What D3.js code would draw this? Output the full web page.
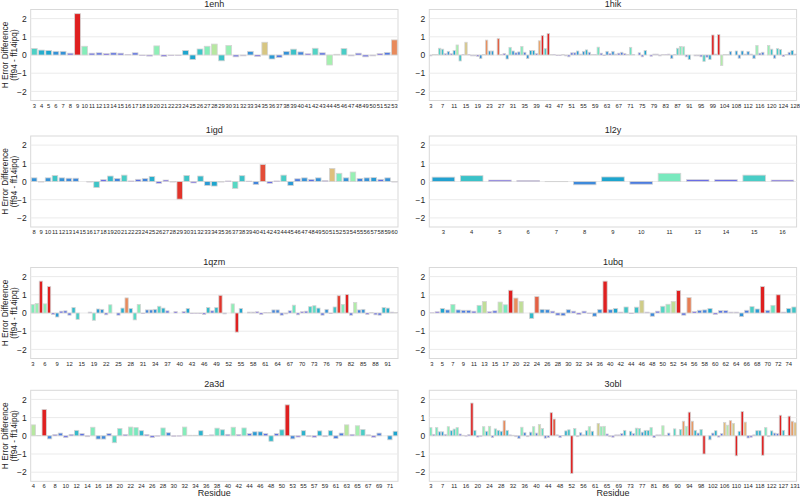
<!DOCTYPE html>
<html><head><meta charset="utf-8">
<script src="https://cdn.jsdelivr.net/npm/d3@7"></script>
<style>
body{margin:0;background:#fff}
svg{display:block}
text{font-family:"Liberation Sans",Arial,sans-serif;fill:#262626}
</style>
</head><body><svg id="c" width="800" height="499"></svg>
<script>
function span(a,b){const r=[];for(let i=a;i<=b;i++)r.push(i);return r;}

// ---------------- data ----------------
const proteins = ["1enh","1hik","1igd","1l2y","1qzm","1ubq","2a3d","3obl"];
const tickEvery = [1,4,1,1,3,2,2,4];
const yTicks = [-2,-1,0,1,2];

const residues_1enh = span(3,53);
const values_1enh = [0.36,0.27,0.25,0.2,0.2,0.1,2.27,0.48,0.1,0.12,0.08,0.12,0.1,0.02,0.12,-0.03,-0.06,0.5,-0.08,-0.03,-0.02,0.25,-0.25,0.33,0.48,0.6,-0.32,0.52,-0.1,-0.05,0.2,-0.08,0.7,-0.22,-0.14,0.2,0.32,0.17,0.07,0.37,0.12,-0.55,0.04,0.35,-0.05,0.1,-0.1,-0.05,0.08,0.14,0.83];

const residues_1hik = span(3,102).concat(span(104,128));
const values_1hik = [-0.05,0.03,0.03,0.37,0.32,0.07,0.2,0.07,0.25,0.55,-0.33,0.02,0.7,0.02,-0.05,-0.05,-0.08,-0.2,0.03,0.82,0.22,0.22,0.0,0.9,0.02,0.08,-0.22,0.42,0.22,0.12,0.17,0.47,0.15,-0.2,0.25,0.25,0.08,0.78,1.07,0.35,1.18,0.03,0.02,-0.03,-0.03,0.03,-0.05,-0.1,0.12,0.12,0.22,0.05,0.2,0.28,0.15,0.03,0.02,0.43,0.1,-0.03,0.2,0.08,0.2,
 0.05,0.1,0.15,0.08,0.03,0.42,0.02,0.0,0.12,-0.1,0.25,0.0,-0.07,0.05,0.05,-0.05,0.03,0.02,0.05,-0.2,0.02,0.37,0.47,0.45,-0.1,-0.25,0.0,-0.05,-0.05,-0.1,-0.35,-0.12,-0.25,1.1,
 0.05,1.12,-0.58,
 0.03,0.03,0.2,0.0,0.22,-0.18,0.22,0.05,0.2,0.05,-0.2,0.52,0.1,0.15,0.0,0.52,0.32,-0.18,0.35,0.3,-0.08,0.03,0.15,0.25,0.05];

const residues_1igd = span(8,60);
const values_1igd = [0.2,-0.03,0.2,0.33,0.2,0.18,0.18,0.0,-0.03,-0.33,0.1,0.3,0.17,0.35,0.03,0.12,0.17,0.27,-0.1,0.08,-0.03,-0.97,0.33,-0.08,0.3,-0.22,-0.25,-0.03,0.03,-0.38,0.32,0.02,-0.17,0.93,-0.1,0.03,0.35,-0.22,0.15,0.2,0.12,0.2,0.05,0.72,0.45,0.2,0.52,0.17,0.2,0.22,0.12,0.2,-0.03];

const residues_1l2y = [3,4,5,6,7,8,9,10,11,13,14,15,16];
const values_1l2y = [0.24,0.32,0.08,0.06,-0.01,-0.18,0.25,-0.15,0.45,0.1,0.1,0.35,0.08];

const residues_1qzm = span(3,17).concat(span(19,93));
const values_1qzm = [0.47,0.52,1.75,0.5,1.45,-0.08,-0.22,0.1,0.12,-0.12,0.3,-0.35,0.0,0.0,0.05,-0.4,0.22,0.2,-0.1,0.45,0.0,-0.12,0.27,0.83,0.25,-0.38,0.47,-0.03,0.17,0.17,0.2,0.37,0.27,0.12,0.0,0.08,0.0,0.08,0.25,-0.03,-0.02,-0.03,-0.08,0.3,0.12,0.3,0.97,-0.05,0.0,0.5,-1.05,0.25,0.0,0.05,0.05,0.07,-0.08,0.02,0.03,0.17,0.17,-0.12,-0.05,0.12,0.43,-0.1,0.07,0.1,0.35,0.4,0.27,-0.12,0.2,-0.03,0.33,0.95,0.47,1.02,-0.12,0.58,0.17,0.2,-0.08,0.03,-0.1,-0.12,0.3,0.27,0.05,0.03];

const residues_1ubq = span(3,18).concat(span(20,36)).concat(span(39,75));
const values_1ubq = [0.01,0.07,0.25,0.17,0.47,0.17,0.15,0.15,0.1,0.42,0.63,0.07,0.12,0.6,0.45,1.25,0.82,0.63,0.0,-0.3,0.9,0.2,0.18,0.1,-0.12,-0.15,0.18,0.1,-0.08,0.1,-0.02,-0.18,0.2,1.75,0.18,0.25,0.05,0.33,-0.03,0.32,0.68,0.05,-0.18,0.1,0.37,0.48,0.63,1.23,-0.12,0.85,0.08,0.15,0.17,0.25,-0.08,0.13,0.13,0.05,0.05,-0.2,0.15,0.35,0.22,1.45,0.15,0.42,1.0,0.05,0.25,0.33];

const residues_2a3d = span(4,51).concat(span(53,72));
const values_2a3d = [0.6,0.02,1.45,-0.17,0.07,0.15,-0.1,0.08,0.3,0.12,-0.05,0.47,-0.18,-0.18,0.13,-0.38,0.4,0.07,0.48,0.45,0.28,0.07,-0.1,-0.02,0.43,0.17,-0.03,-0.02,0.48,0.03,0.03,0.28,0.02,0.05,0.42,0.33,0.08,0.47,0.07,0.43,0.12,0.22,0.22,0.12,-0.3,0.12,0.33,1.7,-0.17,-0.07,0.28,-0.05,-0.08,0.27,-0.05,0.28,-0.15,0.15,0.6,0.08,0.55,0.35,0.05,-0.08,0.15,0.0,-0.22,0.25];

const residues_3obl = span(3,14).concat(span(16,59)).concat(span(61,84)).concat(span(86,125)).concat(span(127,131));
const values_3obl = [0.45,0.08,0.45,0.22,0.22,0.08,0.5,0.28,0.37,0.45,0.1,0.03,-0.02,0.07,1.8,0.3,-0.07,-0.03,0.5,0.25,0.52,-0.1,0.38,0.3,0.25,0.83,0.3,0.05,0.03,-0.05,-0.15,0.47,0.17,-0.05,0.2,0.5,0.15,0.62,0.4,-0.13,-0.1,1.27,0.92,0.05,-0.1,0.02,0.27,0.33,-2.07,0.4,-0.05,0.17,0.05,0.28,0.5,0.25,0.0,0.68,0.5,0.52,0.1,-0.05,
 -0.08,0.05,0.05,0.12,0.3,0.0,0.25,0.12,0.42,0.4,0.2,0.3,0.3,0.45,-0.1,0.05,0.05,0.55,0.03,0.15,0.0,0.38,0.03,0.35,0.8,0.52,1.3,0.8,0.3,0.15,0.35,-1.0,0.0,-0.22,0.15,0.28,-0.07,0.12,0.73,0.58,0.83,0.68,-1.1,0.25,1.33,0.75,-0.12,-0.08,0.05,0.28,0.28,-1.07,0.45,-0.05,0.27,0.15,0.12,1.13,0.3,0.02,1.08,0.8,0.72];

const residueLists = [residues_1enh,residues_1hik,residues_1igd,residues_1l2y,residues_1qzm,residues_1ubq,residues_2a3d,residues_3obl];
const valueLists = [values_1enh,values_1hik,values_1igd,values_1l2y,values_1qzm,values_1ubq,values_2a3d,values_3obl];

// ---------------- layout ----------------
const colX = [30.7, 429.3], plotW = 367.3;
const rowY = [9.5, 136, 267.5, 390.3], plotH = 91;

const svg = d3.select("#c");

function rainbow(t){
  const r = Math.min(1, Math.abs(2*t-0.5));
  const g = Math.sin(Math.PI*t);
  const b = Math.cos(Math.PI*t/2);
  const c = d3.hsl(d3.rgb(r*255,g*255,b*255));
  c.s *= 0.75;
  return c.formatHex();
}
const colorScale = d3.scaleLinear().domain([0,1]).range([0,1]).clamp(true);

proteins.forEach((name,pi)=>{
  const col = pi%2, row = Math.floor(pi/2);
  const x0 = colX[col], y0 = rowY[row];
  const res = residueLists[pi].map(String), vals = valueLists[pi];
  const data = res.map((r,i)=>({r, v: vals[i]}));

  const x = d3.scaleBand().domain(res).range([x0, x0+plotW]).paddingInner(0.2).paddingOuter(0.1);
  const y = d3.scaleLinear().domain([-2.5,2.5]).range([y0+plotH, y0]);

  const g = svg.append("g");
  g.append("rect").attr("x",x0).attr("y",y0).attr("width",plotW).attr("height",plotH)
    .attr("fill","#fff").attr("stroke","#d9d9d9").attr("stroke-width",1);
  g.selectAll("line.grid").data(yTicks).enter().append("line")
    .attr("x1",x0).attr("x2",x0+plotW).attr("y1",d=>y(d)).attr("y2",d=>y(d))
    .attr("stroke","#ebebeb").attr("stroke-width",1);
  g.selectAll("rect.bar").data(data).enter().append("rect")
    .attr("x",d=>x(d.r)).attr("width",x.bandwidth())
    .attr("y",d=>Math.min(y(d.v),y(0))).attr("height",d=>Math.abs(y(d.v)-y(0)))
    .attr("fill",d=>rainbow(colorScale(Math.abs(d.v))))
    .attr("stroke","#d4d4d4").attr("stroke-width",0.8);
  const ya = d3.axisLeft(y).tickValues(yTicks).tickSize(0).tickPadding(4)
    .tickFormat(d=>d<0?"\u2212"+Math.abs(d):String(d));
  const yg = g.append("g").attr("transform",`translate(${x0},0)`).call(ya);
  yg.select(".domain").remove();
  yg.selectAll("text").style("font-size","8.5px").attr("fill","#262626");
  const ev = tickEvery[pi];
  const xa = d3.axisBottom(x).tickValues(res.filter((d,i)=>i%ev===0)).tickSize(0).tickPadding(3);
  const xg = g.append("g").attr("transform",`translate(0,${y0+plotH})`).call(xa);
  xg.select(".domain").remove();
  xg.selectAll("text").style("font-size","5.8px").attr("fill","#262626");
  g.append("text").attr("x",x0+plotW/2).attr("y",y0-3).attr("text-anchor","middle")
    .style("font-size","9px").text(name);
  if(col===0){
    const cy = y0+plotH/2;
    g.append("text").attr("transform",`translate(8,${cy}) rotate(-90)`).attr("text-anchor","middle")
      .style("font-size","8.3px").text("H Error Difference");
    g.append("text").attr("transform",`translate(16.8,${cy}) rotate(-90)`).attr("text-anchor","middle")
      .style("font-size","8.3px").text("(ff94 - ff14ipq)");
  }
  if(row===3){
    g.append("text").attr("x",x0+plotW/2).attr("y",y0+plotH+15).attr("text-anchor","middle")
      .style("font-size","9px").text("Residue");
  }
});
</script></body></html>
